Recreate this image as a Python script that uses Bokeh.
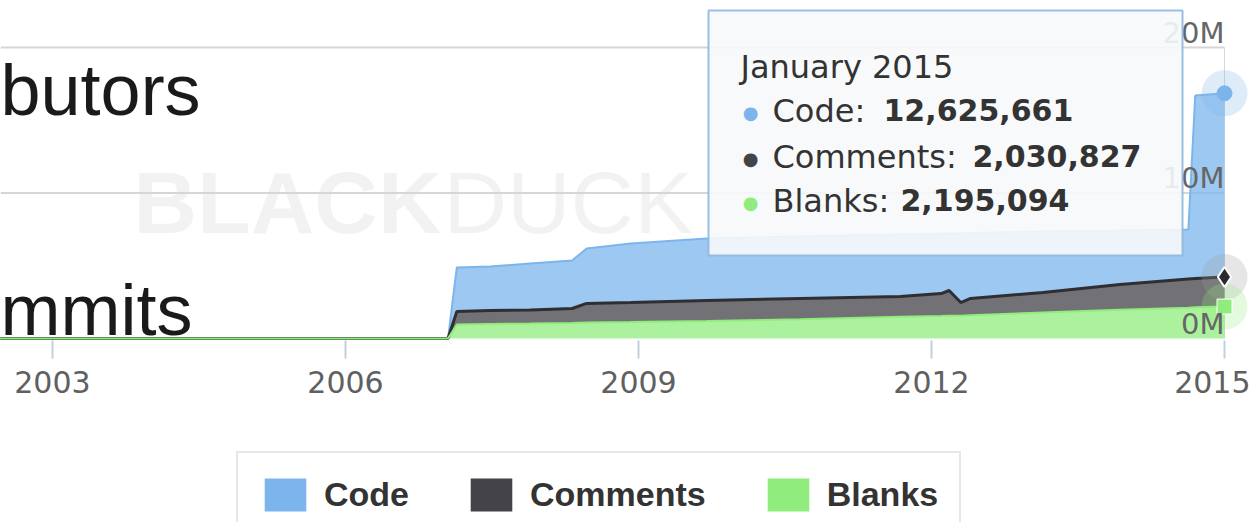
from bokeh.plotting import figure
from bokeh.models import (ColumnDataSource, Range1d, LinearAxis, FixedTicker, Legend,
                          LegendItem, Label, BoxAnnotation)
from bokeh.transform import stack
from bokeh.embed import file_html
from bokeh.resources import INLINE

# ---------------- data (decimal years, lines) ----------------
years = [2002.40, 2007.05, 2007.14, 2007.48, 2007.89, 2008.32, 2008.47, 2008.92, 2009.70,
         2010.66, 2011.68, 2012.10, 2012.18, 2012.30, 2012.40, 2013.14, 2013.93, 2014.63,
         2014.70, 2015.00]
code = [0, 0, 3_020_000, 3_030_000, 3_190_000, 3_300_000, 3_780_000, 4_060_000, 4_260_000,
        4_260_000, 4_260_000, 4_110_000, 3_920_000, 4_750_000, 4_500_000, 4_190_000,
        3_710_000, 3_400_000, 12_580_000, 12_625_661]
comments = [0, 0, 900_000, 920_000, 930_000, 990_000, 1_310_000, 1_340_000, 1_410_000,
            1_420_000, 1_390_000, 1_540_000, 1_740_000, 900_000, 1_150_000, 1_380_000,
            1_740_000, 1_970_000, 1_980_000, 2_030_827]
blanks = [0, 0, 960_000, 1_000_000, 1_030_000, 1_070_000, 1_100_000, 1_130_000, 1_200_000,
          1_330_000, 1_500_000, 1_550_000, 1_560_000, 1_570_000, 1_600_000, 1_780_000,
          1_970_000, 2_120_000, 2_140_000, 2_195_094]
series_names = ["Code", "Comments", "Blanks"]
series_colors = ["#7cb5ec", "#434348", "#90ed7d"]
year_ticks = [2003, 2006, 2009, 2012, 2015]
y_ticks = [0, 10_000_000, 20_000_000]
y_tick_labels = ["0M", "10M", "20M"]
hover_label = "January 2015"
side_texts = ["butors", "mmits"]

# ---------------- geometry ----------------
W, H = 1250, 522
UNITS_PER_PX = 20_000_000 / 291.0     # 20M spans 291 px
ZERO_Y = 338                          # canvas y of the value 0
DJ_DESC = 0.236                       # DejaVu Sans descent (em)
LS_DESC = 0.212                       # Liberation Sans descent (em)


def sy(canvas_y):
    """canvas y (from top) -> screen units of the frame (from its bottom)"""
    return H - canvas_y


def text_label(x, baseline, text, font, size, desc, **kw):
    """Label whose alphabetic baseline sits near canvas y = baseline (drawn with bottom anchor)."""
    return Label(x=x, y=sy(baseline + desc * size), x_units="screen", y_units="screen",
                 text=text, text_font=font, text_font_size=f"{size}px",
                 text_baseline="bottom", **kw)


src = ColumnDataSource(dict(x=years, code=code, comments=comments, blanks=blanks))

p = figure(width=W, height=H, output_backend="svg", toolbar_location=None,
           x_axis_type=None, y_axis_type=None,
           x_range=Range1d(2002.468, 2015.266),
           y_range=Range1d(-(H - ZERO_Y) * UNITS_PER_PX, ZERO_Y * UNITS_PER_PX),
           min_border_left=0, min_border_right=0, min_border_top=0, min_border_bottom=0)
p.outline_line_color = None
p.background_fill_color = "white"
p.border_fill_color = "white"

# grid lines (horizontal, ending at the last date)
grid_vals = [v for v in y_ticks if v > 0]
p.segment(x0=[p.x_range.start] * len(grid_vals), x1=[years[-1]] * len(grid_vals),
          y0=grid_vals, y1=grid_vals, line_color="#d6d6d6", line_width=2)
p.segment(x0=[years[-1]], x1=[years[-1]], y0=[0], y1=[grid_vals[-1]],
          line_color="#d8d8d8", line_width=1)

# watermark
p.add_layout(text_label(133, 233, "BLACK", "Liberation Sans", 88, LS_DESC,
                        text_font_style="bold", text_color="black", text_alpha=0.05,
                        level="underlay"))
p.add_layout(text_label(443, 233, "DUCK", "Liberation Sans", 88, LS_DESC,
                        text_color="black", text_alpha=0.05, level="underlay"))

# stacked areas
stackers = ["blanks", "comments", "code"]
area_colors = [series_colors[2], series_colors[1], series_colors[0]]
p.varea_stack(stackers=stackers, x="x", color=area_colors, fill_alpha=0.75, source=src)
p.line("x", stack("blanks", "comments", "code"), source=src, line_color=series_colors[0], line_width=2)
p.line("x", stack("blanks", "comments"), source=src, line_color="#2f2f33", line_width=3)
p.line("x", stack("blanks"), source=src, line_color=series_colors[2], line_width=2)

# hover markers at the last point
xl = years[-1]
tops = [code[-1] + comments[-1] + blanks[-1], comments[-1] + blanks[-1], blanks[-1]]
halo_colors = [series_colors[0], "#9a9a9a", series_colors[2]]
for t, hc in zip(tops, halo_colors):
    p.scatter([xl], [t], size=46, fill_color=hc, fill_alpha=0.25, line_color=None)
p.scatter([xl], [tops[0]], size=15, marker="circle", fill_color=series_colors[0], line_color=series_colors[0])
p.scatter([xl], [tops[1]], size=20, marker="diamond", fill_color="#2a2a2e", line_color="white", line_width=2)
p.scatter([xl], [tops[2]], size=15, marker="square", fill_color=series_colors[2], line_color="white", line_width=1)

# y labels inside the plot, right aligned just above their grid lines
YL = 29
p.text(x=[xl] * len(y_ticks), y=y_ticks, text=y_tick_labels, text_align="right",
       text_baseline="bottom", y_offset=round(DJ_DESC * YL - 5), text_font_size=f"{YL}px",
       text_font={"value": "DejaVu Sans"}, text_color="#666666")

# x axis, pinned at the base of the chart
xaxis = LinearAxis(ticker=FixedTicker(ticks=year_ticks), fixed_location=-2 * UNITS_PER_PX)
xaxis.axis_line_color = None
xaxis.major_tick_line_color = "#c0d0e0"
xaxis.major_tick_line_width = 2
xaxis.major_tick_in = 0
xaxis.major_tick_out = 18
xaxis.minor_tick_line_color = None
xaxis.major_label_standoff = 12
xaxis.major_label_text_font = "DejaVu Sans"
xaxis.major_label_text_font_size = "30px"
xaxis.major_label_text_color = "#606060"
p.add_layout(xaxis, "below")

# legend (full-colour swatches from zero-height helper areas)
dummy = []
for c in series_colors:
    dummy.append(p.varea(x=years[:2], y1=code[:2], y2=code[:2], fill_color=c, fill_alpha=1.0))
legend = Legend(items=[LegendItem(label=n, renderers=[r]) for n, r in zip(series_names, dummy)],
                orientation="horizontal", location=(236, -16),
                glyph_width=52, glyph_height=41, label_height=33, label_standoff=13,
                spacing=56, padding=21, margin=0,
                label_text_font="Liberation Sans", label_text_font_style="bold",
                label_text_font_size="34px", label_text_color="#333333",
                border_line_color="#cfcfcf", border_line_width=2,
                background_fill_color="white", background_fill_alpha=1.0)
p.add_layout(legend, "center")

# cropped page texts at the left
p.add_layout(text_label(0, 114, side_texts[0], "Liberation Sans", 72, LS_DESC, text_color="#1a1a1a"))
p.add_layout(text_label(0, 334, side_texts[1], "Liberation Sans", 72, LS_DESC, text_color="#1a1a1a"))

# tooltip
p.add_layout(BoxAnnotation(left=708, right=1182, top=sy(10), bottom=sy(255),
                           left_units="screen", right_units="screen",
                           top_units="screen", bottom_units="screen",
                           fill_color="#f7f8fa", fill_alpha=0.9,
                           line_color="#8fb8de", line_width=2, line_alpha=0.9))
p.add_layout(text_label(740, 78, hover_label, "DejaVu Sans", 32, DJ_DESC, text_color="#333333"))
row_base = [122, 168, 212]
num_x = [883, 972, 900]
values = [code[-1], comments[-1], blanks[-1]]
for name, col, base, nx, v in zip(series_names, series_colors, row_base, num_x, values):
    p.add_layout(Label(x=750, y=sy(base - 10), x_units="screen", y_units="screen", text="\u25CF",
                       text_align="center", text_baseline="middle",
                       text_font="DejaVu Sans", text_font_size="18px", text_color=col))
    p.add_layout(text_label(772, base, f"{name}:", "DejaVu Sans", 32, DJ_DESC, text_color="#333333"))
    p.add_layout(text_label(nx, base - 9, f"{v:,}", "DejaVu Sans", 30, DJ_DESC,
                            text_font_style="bold", text_color="#333333"))

open("out.html", "w").write(file_html(p, INLINE))
